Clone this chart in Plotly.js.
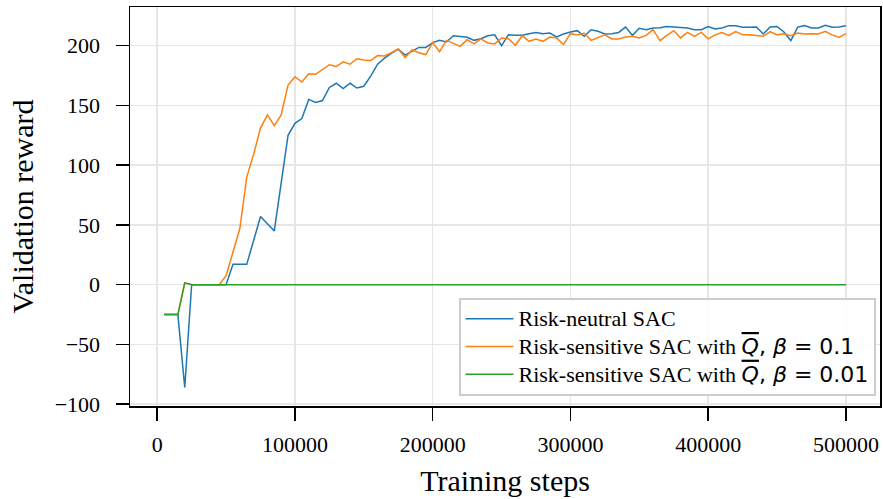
<!DOCTYPE html>
<html>
<head>
<meta charset="utf-8">
<script src="https://cdn.plot.ly/plotly-3.0.1.min.js"></script>
<style>html,body{margin:0;padding:0;background:#fff;}#chart{width:883px;height:499px;}</style>
</head>
<body>
<div id="chart"></div>
<script>
const steps = [5000,10000,15000,20000,25000,30000,35000,40000,45000,50000,
55000,60000,65000,70000,75000,80000,85000,90000,95000,100000,
105000,110000,115000,120000,125000,130000,135000,140000,145000,150000,
155000,160000,165000,170000,175000,180000,185000,190000,195000,200000,
205000,210000,215000,220000,225000,230000,235000,240000,245000,250000,
255000,260000,265000,270000,275000,280000,285000,290000,295000,300000,
305000,310000,315000,320000,325000,330000,335000,340000,345000,350000,
355000,360000,365000,370000,375000,380000,385000,390000,395000,400000,
405000,410000,415000,420000,425000,430000,435000,440000,445000,450000,
455000,460000,465000,470000,475000,480000,485000,490000,495000,500000];

const riskNeutral = [-25,-25,-25,-86,0,0,0,0,0,0,
17,17,17,37,57,51,45,85,125,135,
139,155,152.5,154,165,168.5,164,168.5,164.5,166,
174.5,184.5,189.5,193.5,197,192,195.5,198.5,198.5,202.5,
204.5,203,208.3,207.8,207,204.4,205.8,208.3,209,200,
209,208.6,208.6,210,211,210,210.5,207.2,209.7,211.4,
212.5,207.8,213.3,212,209.7,210,211,215.5,208.6,214.5,
213.3,214.7,215,216,215.5,214.7,214.7,213.3,213.3,216,
214,214.7,216.7,216.7,215.3,215.3,215.5,209.7,215.5,216,
211.4,204.2,215.5,216.7,214.7,214.7,217,215.3,215.5,216.7];

const riskSensitive01 = [-25,-25,-25,1.5,0,0,0,0,0,7.5,
27,47,90,109,131,142,133,142,167,174,
169.5,176.4,176,180.3,184,182.5,186.4,184.4,189,188,
187.5,191.7,191.4,194,197.2,190,196.4,194,192.5,202.5,
195,204.4,202.2,199.4,205,201.4,205.6,202.2,201.4,206.4,
205.8,200.3,208.3,203.6,205.6,203.6,207.2,206.4,200.8,210,
208.8,210.5,204.4,206.4,209,205.6,205.6,207.2,207.8,206.4,
208.6,213.3,204.2,208.6,212.5,206.4,211,207.8,211,205.6,
209,211,208.6,211.7,209,209,208.6,207.8,211.7,209,
210,208.3,210.5,209.7,210,209.7,212,209,206.9,210];

const riskSensitive001 = [-25,-25,-25,1.5,0,0,0,0,0,0,
0,0,0,0,0,0,0,0,0,0,
0,0,0,0,0,0,0,0,0,0,
0,0,0,0,0,0,0,0,0,0,
0,0,0,0,0,0,0,0,0,0,
0,0,0,0,0,0,0,0,0,0,
0,0,0,0,0,0,0,0,0,0,
0,0,0,0,0,0,0,0,0,0,
0,0,0,0,0,0,0,0,0,0,
0,0,0,0,0,0,0,0,0,0];

const mathQ = '<span style="font-family:DejaVu Sans;text-decoration:overline"><i>Q</i></span>';
const seriesNames = [
  '<span style="font-size:22px">Risk-neutral SAC</span>',
  '<span style="font-size:22px">Risk-sensitive SAC with ' + mathQ + '<span style="font-family:DejaVu Sans">, <i>β</i> = 0.1</span></span>',
  '<span style="font-size:22px">Risk-sensitive SAC with ' + mathQ + '<span style="font-family:DejaVu Sans">, <i>β</i> = 0.01</span></span>'
];
const xTickVals = [0,100000,200000,300000,400000,500000];
const xTickText = ['0','100000','200000','300000','400000','500000'];
const yTickVals = [-100,-50,0,50,100,150,200];
const colors = ['#1f77b4','#ff7f0e','#2ca02c'];

const ys = [riskNeutral, riskSensitive01, riskSensitive001];
const traces = ys.map((y,i)=>({
  x: steps, y: y, type:'scatter', mode:'lines', name: seriesNames[i],
  line:{color:colors[i], width:1.5}, hoverinfo:'skip'
}));

const serif = 'Liberation Serif, Times New Roman, serif';
const layout = {
  width:883, height:499,
  margin:{l:130, r:3, t:7, b:93},
  paper_bgcolor:'#fff', plot_bgcolor:'#fff',
  font:{family:serif, size:22, color:'#000'},
  showlegend:true,
  legend:{
    x:0.994, y:0.025, xanchor:'right', yanchor:'bottom',
    bgcolor:'rgba(255,255,255,0.85)', bordercolor:'#cccccc', borderwidth:2,
    font:{family:serif, size:19, color:'#000'}, tracegroupgap:0, itemwidth:48
  },
  xaxis:{
    range:[-19750,524750], tickmode:'array', tickvals:xTickVals, ticktext:xTickText,
    showgrid:true, gridcolor:'#e6e6e6', gridwidth:1.5,
    showline:true, linecolor:'#000', linewidth:1.5, mirror:true,
    ticks:'outside', ticklen:13, tickwidth:1.5, tickcolor:'#000',
    ticklabelstandoff:5, zeroline:false,
    tickfont:{family:serif, size:22, color:'#000'},
    title:{text:'Training steps', font:{family:serif, size:30, color:'#000'}, standoff:14}
  },
  yaxis:{
    range:[-101.5,232.3], tickmode:'array', tickvals:yTickVals,
    showgrid:true, gridcolor:'#e6e6e6', gridwidth:1.5,
    showline:true, linecolor:'#000', linewidth:1.5, mirror:true,
    ticks:'outside', ticklen:13, tickwidth:1.5, tickcolor:'#000',
    ticklabelstandoff:11, zeroline:false,
    tickfont:{family:serif, size:22, color:'#000'},
    title:{text:'Validation reward', font:{family:serif, size:30, color:'#000'}, standoff:12}
  }
};
Plotly.newPlot('chart', traces, layout, {staticPlot:true, displayModeBar:false});
</script>
</body>
</html>
